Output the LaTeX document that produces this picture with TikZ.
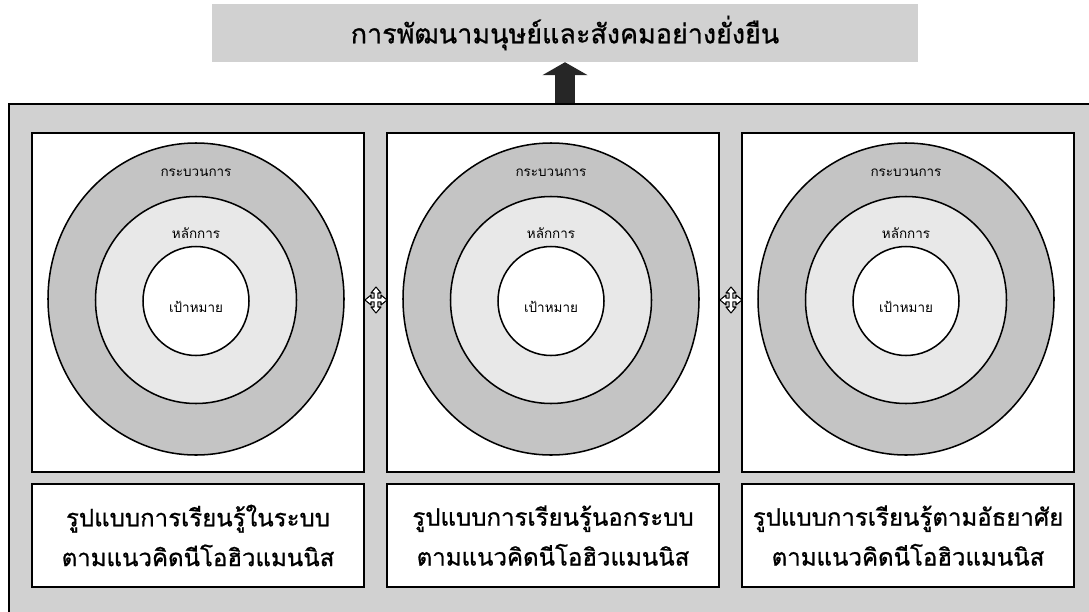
\documentclass[tikz,border=0pt]{standalone}
\usepackage{fontspec}
\newfontfamily\thaifont[Script=Thai]{Loma}
\newfontfamily\thaiheavy[Script=Thai,FakeBold=0.8]{Loma}
\usetikzlibrary{shapes.geometric,arrows.meta}

\newlength{\unitpx}
\setlength{\unitpx}{0.03cm}

\definecolor{framegray}{gray}{0.82}
\definecolor{ringgray}{gray}{0.77}
\definecolor{coregray}{gray}{0.91}

\tikzset{
  panel/.style={draw=black, fill=white, line width=1.6pt, inner sep=0pt,
    minimum width=332\unitpx, minimum height=339\unitpx},
  caption/.style={draw=black, fill=white, line width=1.6pt, inner sep=0pt,
    minimum width=332\unitpx, minimum height=103\unitpx, align=center,
    font=\thaiheavy\fontsize{20.5}{34}\selectfont},
  outerring/.style={ellipse, draw=black, line width=1.3pt, inner sep=0pt, fill=ringgray,
    minimum width=296\unitpx, minimum height=312\unitpx},
  midring/.style={ellipse, draw=black, line width=1.3pt, inner sep=0pt, fill=coregray,
    minimum width=201\unitpx, minimum height=207\unitpx},
  innerring/.style={ellipse, draw=black, line width=1.3pt, inner sep=0pt, fill=white,
    minimum width=106\unitpx, minimum height=109\unitpx},
  ringlabel/.style={font=\thaifont\fontsize{11.5}{13}\selectfont},
  crossarrow/.pic={
    \filldraw[fill=white, draw=black, line width=0.9pt, line join=round]
      (0,-13) -- (5,-7) -- (1.8,-7) -- (1.8,-1.8) -- (5,-1.8) -- (5,-5) -- (11,0)
      -- (5,5) -- (5,1.8) -- (1.8,1.8) -- (1.8,7) -- (5,7) -- (0,13) -- (-5,7)
      -- (-1.8,7) -- (-1.8,1.8) -- (-5,1.8) -- (-5,5) -- (-11,0) -- (-5,-5)
      -- (-5,-1.8) -- (-1.8,-1.8) -- (-1.8,-7) -- (-5,-7) -- cycle;
  }
}

\begin{document}
\begin{tikzpicture}[x=\unitpx, y=-\unitpx]
  \useasboundingbox (0,0) rectangle (1089,611);

  % grey frame and the goal on top
  \node[draw=black, fill=framegray, line width=1.6pt, inner sep=0pt, anchor=north west,
    minimum width=1090\unitpx, minimum height=520\unitpx] (frame) at (8,103) {};
  \node[fill=framegray, inner sep=0pt, minimum width=706\unitpx, minimum height=58\unitpx,
    font=\thaiheavy\fontsize{23}{26}\selectfont] (banner) at (565,33) {การพัฒนามนุษย์และสังคมอย่างยั่งยืน};
  \draw[line width=17pt, black!85, -{Triangle[width=38pt,length=11pt]}]
    (banner.south |- frame.north) -- (banner.south);

  % three panels
  \node[panel] (panelA) at (198,302.5) {};
  \node[panel] (panelB) at (553,302.5) {};
  \node[panel] (panelC) at (908,302.5) {};

  \node[outerring] (processA) at (196,299) {};
  \node[midring] (principleA) at (196,300) {};
  \node[innerring] (goalA) at (196,301) {};
  \node[ringlabel] (processtextA) at (196,173) {กระบวนการ};
  \node[ringlabel] (principletextA) at (196,233) {หลักการ};
  \node[ringlabel] (goaltextA) at (196,307) {เป้าหมาย};

  \node[outerring] (processB) at (551,299) {};
  \node[midring] (principleB) at (551,300) {};
  \node[innerring] (goalB) at (551,301) {};
  \node[ringlabel] (processtextB) at (551,173) {กระบวนการ};
  \node[ringlabel] (principletextB) at (551,233) {หลักการ};
  \node[ringlabel] (goaltextB) at (551,307) {เป้าหมาย};

  \node[outerring] (processC) at (906,299) {};
  \node[midring] (principleC) at (906,300) {};
  \node[innerring] (goalC) at (906,301) {};
  \node[ringlabel] (processtextC) at (906,173) {กระบวนการ};
  \node[ringlabel] (principletextC) at (906,233) {หลักการ};
  \node[ringlabel] (goaltextC) at (906,307) {เป้าหมาย};

  \coordinate (gapAB) at (376,300);
  \coordinate (gapBC) at (731,300);
  \pic at (gapAB) {crossarrow};
  \pic at (gapBC) {crossarrow};

  % captions
  \node[caption] (modelA) at (198,535.5) {รูปแบบการเรียนรู้ในระบบ\\ตามแนวคิดนีโอฮิวแมนนิส};
  \node[caption] (modelB) at (553,535.5) {รูปแบบการเรียนรู้นอกระบบ\\ตามแนวคิดนีโอฮิวแมนนิส};
  \node[caption] (modelC) at (908,535.5) {รูปแบบการเรียนรู้ตามอัธยาศัย\\ตามแนวคิดนีโอฮิวแมนนิส};
\end{tikzpicture}
\end{document}
